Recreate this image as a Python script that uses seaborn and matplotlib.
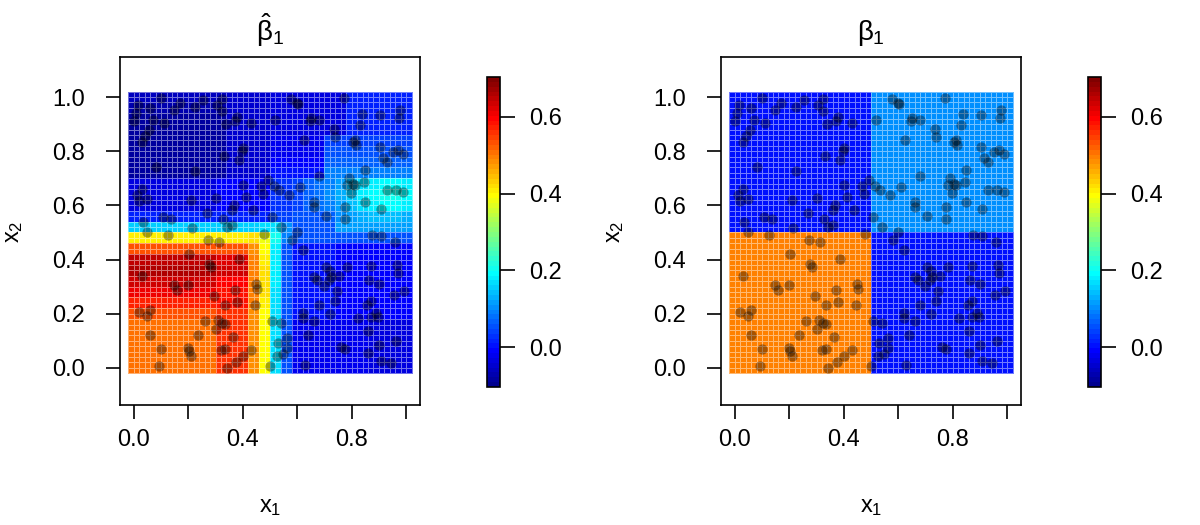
import numpy as np
import seaborn as sns
import matplotlib.pyplot as plt
from matplotlib.colors import ListedColormap

# -----------------------------------------
# Data
# -----------------------------------------
# fitted surface on a 26 x 26 grid (x1, x2 = 0, 0.04, ..., 1.0)
# rows run from x2 = 1.0 (top) down to x2 = 0.0 (bottom)
grid_step = 0.04
beta_hat = [
    [-0.06] * 9 + [-0.05] * 4 + [-0.03] * 7 + [0.01] * 6,     # x2 = 1.00
    [-0.07] * 9 + [-0.05] * 4 + [-0.03] * 7 + [0.01] * 6,     # 0.96
    [-0.08] * 9 + [-0.05] * 4 + [-0.03] * 7 + [0.01] * 6,     # 0.92
    [-0.08] * 9 + [-0.05] * 4 + [-0.03] * 7 + [0.02] * 6,     # 0.88
    [-0.08] * 9 + [-0.05] * 4 + [-0.02] * 5 + [0.045] * 8,    # 0.84
    [-0.08] * 9 + [-0.05] * 4 + [-0.02] * 5 + [0.05] * 8,     # 0.80
    [-0.08] * 9 + [-0.05] * 4 + [-0.01] * 5 + [0.07] * 8,     # 0.76
    [-0.08] * 9 + [-0.05] * 4 + [0.0] * 5 + [0.09] * 8,       # 0.72
    [-0.03] * 8 + [-0.015] * 5 + [0.03, 0.03, 0.04, 0.07, 0.08, 0.09, 0.12, 0.14, 0.17, 0.18, 0.19, 0.19, 0.18],  # 0.68
    [-0.03] * 8 + [-0.015] * 5 + [0.03, 0.03, 0.04, 0.07, 0.08, 0.10, 0.13, 0.15, 0.18, 0.19, 0.20, 0.20, 0.19],  # 0.64
    [-0.03] * 8 + [-0.015] * 5 + [0.03, 0.03, 0.04, 0.07, 0.08, 0.09, 0.12, 0.14, 0.17, 0.18, 0.19, 0.19, 0.18],  # 0.60
    [0.02] * 13 + [0.04, 0.04, 0.05, 0.06, 0.06, 0.07, 0.10, 0.12, 0.13, 0.14, 0.14, 0.14, 0.13],                # 0.56
    [0.15] * 12 + [0.17, 0.17, 0.10, 0.05, 0.05, 0.05, 0.05, 0.12, 0.12, 0.12, 0.12, 0.12, 0.12, 0.12],          # 0.52
    [0.41] * 11 + [0.42, 0.38, 0.20, 0.09] + [0.06] * 11,                                                        # 0.48
    [0.53] * 11 + [0.48, 0.40, 0.18, 0.06] + [0.0] * 4 + [-0.01] * 7,                                             # 0.44
    [0.65] * 8 + [0.62] * 3 + [0.49, 0.41, 0.18, 0.06] + [0.0] * 4 + [-0.01] * 7,                                 # 0.40
    [0.66] * 8 + [0.63] * 3 + [0.50, 0.42, 0.18, 0.06] + [0.0] * 4 + [-0.01] * 7,                                 # 0.36
    [0.63] * 8 + [0.60] * 3 + [0.50, 0.42, 0.18, 0.06] + [0.0] * 4 + [-0.01] * 7,                                 # 0.32
    [0.61] * 8 + [0.59] * 3 + [0.50, 0.42, 0.17, 0.06] + [0.0] * 4 + [-0.01] * 7,                                 # 0.28
    [0.57] * 8 + [0.58] * 3 + [0.49, 0.41, 0.17, 0.06] + [0.0] * 4 + [-0.01] * 7,                                 # 0.24
    [0.53] * 8 + [0.56] * 3 + [0.48, 0.40, 0.17, 0.06] + [0.0] * 4 + [-0.01] * 7,                                 # 0.20
    [0.51] * 8 + [0.56] * 3 + [0.48, 0.40, 0.17, 0.05] + [-0.02] * 7 + [-0.04] * 4,                               # 0.16
    [0.51] * 8 + [0.56] * 3 + [0.48, 0.40, 0.17, 0.05] + [-0.02] * 7 + [-0.04] * 4,                               # 0.12
    [0.51] * 8 + [0.56] * 3 + [0.48, 0.40, 0.17, 0.05] + [-0.02] * 7 + [-0.04] * 4,                               # 0.08
    [0.51] * 8 + [0.56] * 3 + [0.48, 0.40, 0.17, 0.05] + [-0.02] * 7 + [-0.04] * 4,                               # 0.04
    [0.51] * 8 + [0.56] * 3 + [0.48, 0.40, 0.17, 0.05] + [-0.02] * 7 + [-0.04] * 4,                               # 0.00
]

# true coefficient: one value per quadrant
# rows: x2 >= 0.5, x2 < 0.5 ; cols: x1 < 0.5, x1 >= 0.5
true_quadrants = [[0.0, 0.1],
                  [0.5, 0.0]]

# observed design points (x1, x2)
pts_x1 = [
    0.015, 0.009, 0.002, 0.060, 0.069, 0.101, 0.109, 0.149, 0.171, 0.223, 0.255, 0.304, 0.325, 0.325, 0.337,
    0.370, 0.380, 0.429, 0.054, 0.042, 0.030, 0.402, 0.396, 0.331, 0.386, 0.082, 0.226, 0.030, 0.011, 0.017,
    0.050, 0.208, 0.300, 0.402, 0.411, 0.466, 0.491, 0.476, 0.368, 0.359, 0.267, 0.439, 0.107, 0.138,
    0.327, 0.032, 0.214, 0.341, 0.362,
    0.577, 0.601, 0.604, 0.770, 0.518, 0.651, 0.647, 0.681, 0.734, 0.737, 0.626, 0.829, 0.838, 0.903, 0.977,
    0.973, 0.804, 0.813, 0.817, 0.903, 0.952, 0.970, 0.989, 0.915, 0.928, 0.850, 0.681, 0.792, 0.782, 0.804,
    0.813, 0.798, 0.844, 0.610, 0.534, 0.515, 0.571, 0.661, 0.661, 0.706, 0.774, 0.774, 0.848, 0.909, 0.931,
    0.964, 0.989, 0.506, 0.540, 0.601,
    0.048, 0.125, 0.479, 0.272, 0.313, 0.202, 0.386, 0.276, 0.282, 0.030, 0.146, 0.159, 0.199, 0.448, 0.454,
    0.372, 0.296, 0.380, 0.335, 0.445, 0.017, 0.058, 0.050, 0.263, 0.309, 0.325, 0.333, 0.300, 0.058, 0.235,
    0.365, 0.100, 0.199, 0.204, 0.208, 0.321, 0.333, 0.432, 0.399, 0.374, 0.091, 0.343,
    0.579, 0.620, 0.874, 0.909, 0.958, 0.706, 0.722, 0.663, 0.673, 0.724, 0.752, 0.783, 0.718, 0.700, 0.870,
    0.967, 0.970, 0.863, 0.899, 0.993, 0.956, 0.746, 0.739, 0.679, 0.870, 0.857, 0.890, 0.897, 0.870, 0.825,
    0.721, 0.620, 0.620, 0.663, 0.509, 0.542, 0.860, 0.638, 0.562, 0.530, 0.562, 0.546, 0.525, 0.759, 0.776,
    0.899, 0.964, 0.860, 0.907, 0.946, 0.628, 0.501,
]
pts_x2 = [
    0.972, 0.941, 0.910, 0.959, 0.914, 0.996, 0.904, 0.951, 0.978, 0.963, 0.990, 0.972, 0.993, 0.947, 0.900,
    0.910, 0.926, 0.904, 0.877, 0.855, 0.834, 0.812, 0.800, 0.781, 0.766, 0.740, 0.728, 0.660, 0.639, 0.615,
    0.624, 0.621, 0.627, 0.674, 0.630, 0.673, 0.695, 0.642, 0.600, 0.584, 0.572, 0.584, 0.556, 0.551,
    0.551, 0.539, 0.517, 0.519, 0.529,
    0.993, 0.978, 0.975, 0.996, 0.916, 0.922, 0.910, 0.914, 0.883, 0.851, 0.840, 0.896, 0.937, 0.932, 0.953,
    0.922, 0.833, 0.842, 0.824, 0.815, 0.797, 0.803, 0.790, 0.775, 0.759, 0.732, 0.710, 0.701, 0.674, 0.679,
    0.674, 0.646, 0.686, 0.667, 0.656, 0.670, 0.639, 0.612, 0.593, 0.560, 0.593, 0.551, 0.611, 0.586, 0.657,
    0.657, 0.649, 0.557, 0.519, 0.502,
    0.502, 0.490, 0.496, 0.471, 0.464, 0.422, 0.403, 0.384, 0.373, 0.338, 0.307, 0.289, 0.307, 0.311, 0.293,
    0.287, 0.266, 0.244, 0.231, 0.231, 0.207, 0.213, 0.191, 0.172, 0.178, 0.166, 0.163, 0.145, 0.120, 0.120,
    0.114, 0.071, 0.074, 0.062, 0.043, 0.067, 0.071, 0.067, 0.045, 0.022, 0.006, 0.000,
    0.473, 0.434, 0.490, 0.486, 0.465, 0.373, 0.359, 0.335, 0.326, 0.335, 0.341, 0.372, 0.326, 0.304, 0.378,
    0.381, 0.351, 0.326, 0.311, 0.285, 0.271, 0.285, 0.246, 0.234, 0.248, 0.231, 0.203, 0.187, 0.187, 0.185,
    0.199, 0.203, 0.185, 0.175, 0.172, 0.166, 0.135, 0.120, 0.111, 0.092, 0.074, 0.052, 0.043, 0.077, 0.071,
    0.085, 0.100, 0.055, 0.025, 0.018, 0.012, 0.006,
]

zlim = (-0.104, 0.704)
cbar_ticks = [0.0, 0.2, 0.4, 0.6]
cbar_labels = ["0.0", "0.2", "0.4", "0.6"]
axis_ticks = [0.0, 0.2, 0.4, 0.6, 0.8, 1.0]
x_tick_labels = ["0.0", "", "0.4", "", "0.8", ""]
y_tick_labels = ["0.0", "0.2", "0.4", "0.6", "0.8", "1.0"]
x_limits = (-0.051, 1.051)
y_limits = (-0.137, 1.148)

# 64-colour "tim.colors" palette (jet-like)
tim_colors = [
    "#00008F", "#00009F", "#0000AF", "#0000BF", "#0000CF", "#0000DF", "#0000EF", "#0000FF",
    "#0010FF", "#0020FF", "#0030FF", "#0040FF", "#0050FF", "#0060FF", "#0070FF", "#0080FF",
    "#008FFF", "#009FFF", "#00AFFF", "#00BFFF", "#00CFFF", "#00DFFF", "#00EFFF", "#00FFFF",
    "#10FFEF", "#20FFDF", "#30FFCF", "#40FFBF", "#50FFAF", "#60FF9F", "#70FF8F", "#80FF80",
    "#8FFF70", "#9FFF60", "#AFFF50", "#BFFF40", "#CFFF30", "#DFFF20", "#EFFF10", "#FFFF00",
    "#FFEF00", "#FFDF00", "#FFCF00", "#FFBF00", "#FFAF00", "#FF9F00", "#FF8F00", "#FF8000",
    "#FF7000", "#FF6000", "#FF5000", "#FF4000", "#FF3000", "#FF2000", "#FF1000", "#FF0000",
    "#EF0000", "#DF0000", "#CF0000", "#BF0000", "#AF0000", "#9F0000", "#8F0000", "#800000",
]

# -----------------------------------------
# Style
# -----------------------------------------
sns.set_style("white")
plt.rcParams["font.family"] = ["Liberation Sans", "DejaVu Sans"]
plt.rcParams["mathtext.fontset"] = "custom"
plt.rcParams["mathtext.rm"] = "Liberation Sans"
plt.rcParams["mathtext.it"] = "Liberation Sans"
plt.rcParams["mathtext.bf"] = "Liberation Sans:bold"
for key in ["text.color", "axes.labelcolor", "xtick.color", "ytick.color", "axes.edgecolor"]:
    plt.rcParams[key] = "black"

cmap = ListedColormap(tim_colors)
sub = 2  # each grid value is drawn as 2 x 2 sub-cells (finer white seams)


def to_col(v):
    return (np.asarray(v) / grid_step + 0.5) * sub


def to_row(v):
    return ((1 - np.asarray(v)) / grid_step + 0.5) * sub


def draw_panel(ax, cax, surface):
    fine = np.repeat(np.repeat(np.asarray(surface, dtype=float), sub, axis=0), sub, axis=1)
    sns.heatmap(fine, ax=ax, cmap=cmap, vmin=zlim[0], vmax=zlim[1], cbar_ax=cax,
                linewidths=0.45, linecolor=(1, 1, 1, 0.45),
                xticklabels=False, yticklabels=False,
                cbar_kws={"ticks": cbar_ticks})
    sns.scatterplot(x=to_col(pts_x1), y=to_row(pts_x2), ax=ax, color="black",
                    alpha=0.35, s=55, linewidth=0, legend=False)

    ax.set_xlim(to_col(x_limits[0]), to_col(x_limits[1]))
    ax.set_ylim(to_row(y_limits[0]), to_row(y_limits[1]))
    for spine in ax.spines.values():
        spine.set_visible(True)
        spine.set_color("black")
        spine.set_linewidth(1.2)

    ax.set_xticks(to_col(axis_ticks))
    ax.set_xticklabels(x_tick_labels)
    ax.set_yticks(to_row(axis_ticks))
    ax.set_yticklabels(y_tick_labels, rotation=0)
    ax.tick_params(axis="x", bottom=True, direction="out", length=10, width=1.2,
                   pad=7, labelsize=17, colors="black")
    ax.tick_params(axis="y", left=True, direction="out", length=10, width=1.2,
                   pad=15, labelsize=17, colors="black")
    ax.set_xlabel("")
    ax.set_ylabel("")

    cbar = ax.collections[0].colorbar
    cbar.outline.set_edgecolor("black")
    cbar.outline.set_linewidth(1.2)
    cbar.set_ticks(cbar_ticks)
    cbar.set_ticklabels(cbar_labels)
    cbar.ax.tick_params(right=True, direction="out", length=11, width=1.2,
                        pad=10, labelsize=17, colors="black")


fig = plt.figure(figsize=(12, 5.25), dpi=100)
ax1 = fig.add_axes([120 / 1200, 120 / 525, 300 / 1200, 348 / 525])
cax1 = fig.add_axes([487 / 1200, 138 / 525, 13 / 1200, 310 / 525])
ax2 = fig.add_axes([721 / 1200, 120 / 525, 300 / 1200, 348 / 525])
cax2 = fig.add_axes([1088 / 1200, 138 / 525, 13 / 1200, 310 / 525])

truth = np.repeat(np.repeat(np.asarray(true_quadrants), 13, axis=0), 13, axis=1)

draw_panel(ax1, cax1, beta_hat)
draw_panel(ax2, cax2, truth)

# titles and axis labels
fig.text(270 / 1200, 1 - 30 / 525, r"$\hat{\beta}_1$", ha="center", va="center", fontsize=20)
fig.text(871 / 1200, 1 - 33 / 525, r"$\beta_1$", ha="center", va="center", fontsize=20)
for cx in (270, 871):
    fig.text(cx / 1200, 1 - 507 / 525, r"$x_1$", ha="center", va="center", fontsize=17)
for cx in (14, 615):
    fig.text(cx / 1200, 1 - 232 / 525, r"$x_2$", ha="center", va="center", fontsize=17, rotation=90)

fig.savefig("out.png", dpi=100)
